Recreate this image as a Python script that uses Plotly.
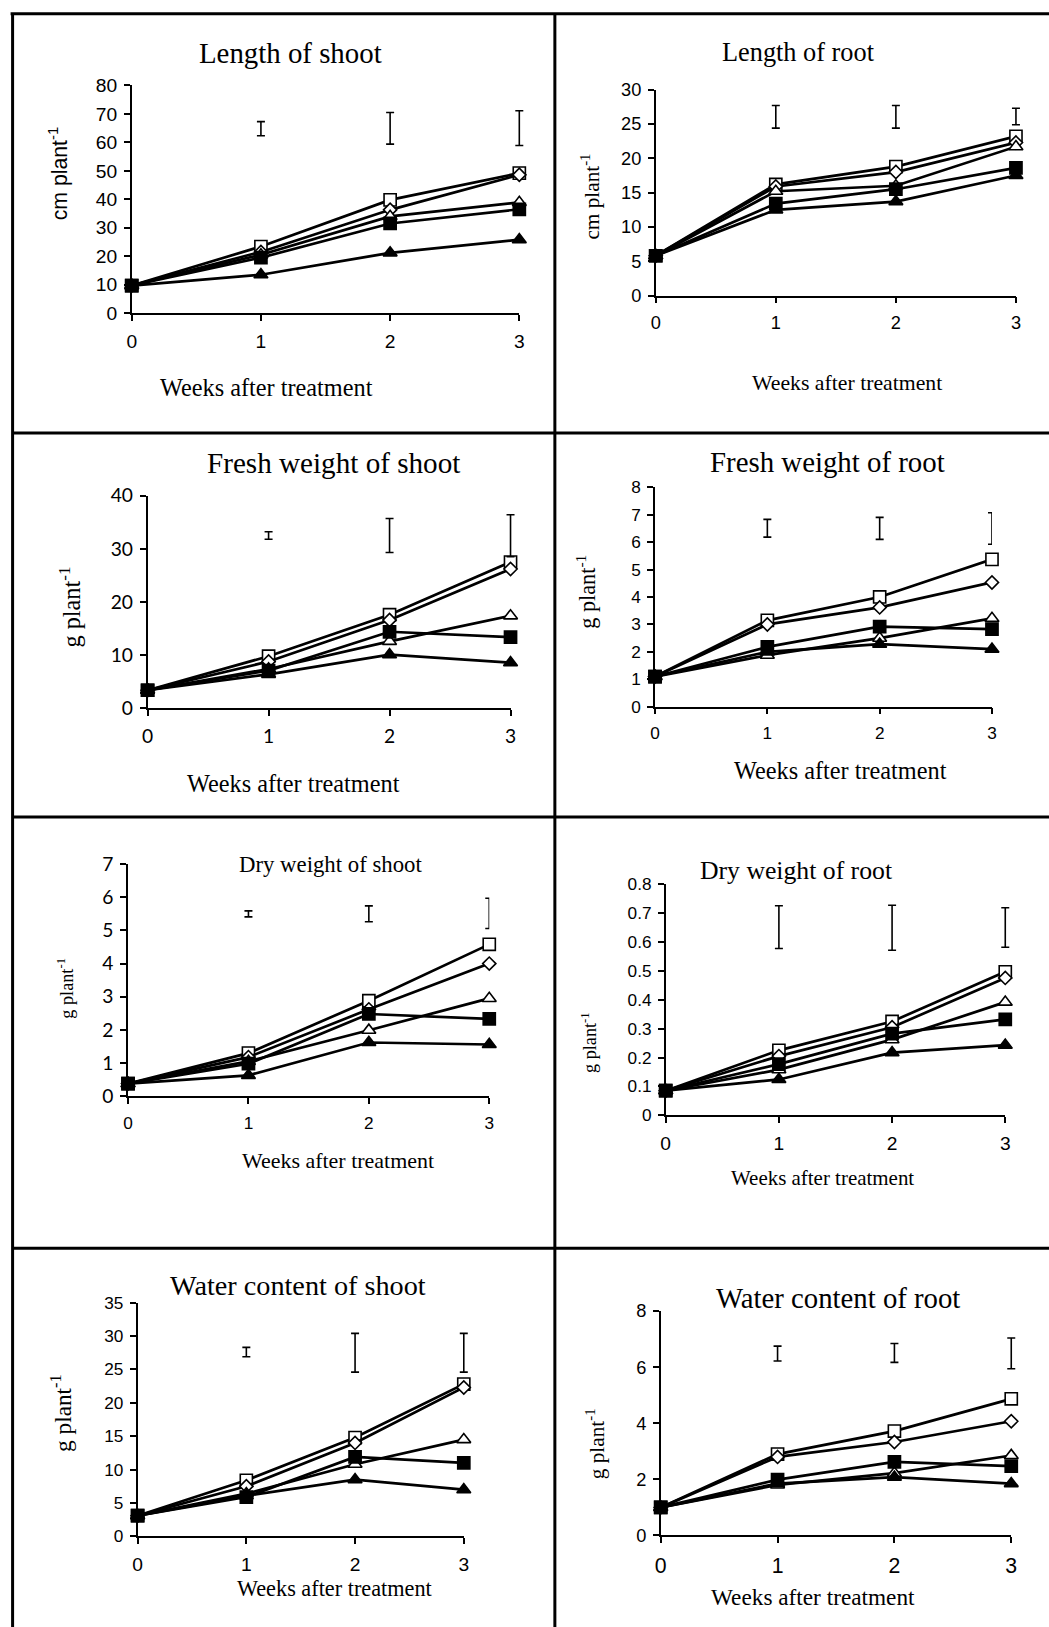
import plotly.graph_objects as go

# Target page size and figure size
W, H = 1049, 1627
FW, FH = 1060, 1640
# Placement of the figure on the captured page: page = offset + scale * figure
OX, OY = 4.4, 12.3
SX, SY = 0.990, 0.9855
FS = 1 / ((SX + SY) / 2)  # font/marker size compensation

weeks = [0, 1, 2, 3]
lsd_weeks = [1, 2, 3]

# Series order in every panel: open square, open diamond, open triangle,
# filled square, filled triangle
shoot_length = [
    [9.7, 23.4, 39.8, 49.2],
    [9.7, 21.5, 36.3, 48.6],
    [9.7, 20.5, 34.0, 38.9],
    [9.7, 19.5, 31.5, 36.5],
    [9.7, 13.5, 21.2, 25.8],
]
shoot_length_lsd_lo = [62.3, 59.4, 58.9]
shoot_length_lsd_hi = [67.3, 70.5, 71.1]

root_length = [
    [5.8, 16.2, 18.8, 23.2],
    [5.8, 15.9, 18.0, 22.3],
    [5.8, 15.2, 16.0, 21.7],
    [5.8, 13.4, 15.5, 18.6],
    [5.8, 12.5, 13.7, 17.5],
]
root_length_lsd_lo = [24.4, 24.4, 24.9]
root_length_lsd_hi = [27.7, 27.7, 27.3]

shoot_fresh = [
    [3.4, 9.8, 17.6, 27.5],
    [3.4, 8.8, 16.6, 26.2],
    [3.4, 7.4, 12.6, 17.4],
    [3.4, 7.1, 14.4, 13.4],
    [3.4, 6.4, 10.1, 8.6],
]
shoot_fresh_lsd_lo = [31.8, 29.3, 28.5]
shoot_fresh_lsd_hi = [33.2, 35.7, 36.4]

root_fresh = [
    [1.1, 3.15, 4.0, 5.37],
    [1.1, 3.0, 3.62, 4.53],
    [1.1, 1.88, 2.5, 3.22],
    [1.1, 2.18, 2.92, 2.83],
    [1.1, 2.0, 2.28, 2.1],
]
root_fresh_lsd_lo = [6.18, 6.1, 5.92]
root_fresh_lsd_hi = [6.83, 6.9, 7.07]

shoot_dry = [
    [0.38, 1.3, 2.88, 4.58],
    [0.38, 1.18, 2.62, 4.0],
    [0.38, 1.05, 1.99, 2.95],
    [0.38, 0.98, 2.48, 2.33],
    [0.38, 0.63, 1.62, 1.56],
]
shoot_dry_lsd_lo = [5.41, 5.26, 5.06]
shoot_dry_lsd_hi = [5.59, 5.74, 5.97]

root_dry = [
    [0.085, 0.225, 0.325, 0.497],
    [0.085, 0.205, 0.305, 0.476],
    [0.085, 0.158, 0.262, 0.392],
    [0.085, 0.177, 0.283, 0.332],
    [0.085, 0.124, 0.217, 0.243],
]
root_dry_lsd_lo = [0.578, 0.572, 0.582]
root_dry_lsd_hi = [0.726, 0.728, 0.719]

shoot_water = [
    [3.1, 8.4, 14.8, 22.8],
    [3.1, 7.5, 14.0, 22.3],
    [3.1, 6.4, 10.8, 14.5],
    [3.1, 5.9, 11.9, 11.0],
    [3.1, 6.1, 8.5, 7.0],
]
shoot_water_lsd_lo = [26.9, 24.6, 24.6]
shoot_water_lsd_hi = [28.3, 30.4, 30.4]

root_water = [
    [1.0, 2.9, 3.72, 4.87],
    [1.0, 2.8, 3.33, 4.07],
    [1.0, 1.8, 2.22, 2.85],
    [1.0, 1.99, 2.62, 2.47],
    [1.0, 1.85, 2.08, 1.85],
]
root_water_lsd_lo = [6.22, 6.17, 5.94]
root_water_lsd_hi = [6.75, 6.84, 7.04]

titles = ["Length of shoot", "Length of root", "Fresh weight of shoot",
          "Fresh weight of root", "Dry weight of shoot", "Dry weight of root",
          "Water content of shoot", "Water content of root"]
y_titles = ["cm plant<sup>-1</sup>", "cm plant<sup>-1</sup>",
            "g plant<sup>-1</sup>", "g plant<sup>-1</sup>",
            "g plant<sup>-1</sup>", "g plant<sup>-1</sup>",
            "g plant<sup>-1</sup>", "g plant<sup>-1</sup>"]
x_title = "Weeks after treatment"

panel_data = [
    (shoot_length, shoot_length_lsd_lo, shoot_length_lsd_hi),
    (root_length, root_length_lsd_lo, root_length_lsd_hi),
    (shoot_fresh, shoot_fresh_lsd_lo, shoot_fresh_lsd_hi),
    (root_fresh, root_fresh_lsd_lo, root_fresh_lsd_hi),
    (shoot_dry, shoot_dry_lsd_lo, shoot_dry_lsd_hi),
    (root_dry, root_dry_lsd_lo, root_dry_lsd_hi),
    (shoot_water, shoot_water_lsd_lo, shoot_water_lsd_hi),
    (root_water, root_water_lsd_lo, root_water_lsd_hi),
]

SANS = "Liberation Sans, Arial, sans-serif"
ROUND = "Lato, Open Sans, sans-serif"
SERIF = "Liberation Serif, Times New Roman, serif"

# Plot-area boxes in page pixels (left, right, top, bottom), axis ranges and
# text placement. clip_lsd: the last LSD bar is cut at the plot's right edge.
panel_layout = [
    dict(box=(130.3, 518.4, 85.7, 313.3), ymax=80, dtick=10, clip_lsd=False,
         yfont=(SANS, 19), xfont=(SANS, 19), title=(289, 53, 28.5),
         ytitle=(57, 174, 21, SANS), xtitle=(265.5, 388, 24)),
    dict(box=(655, 1015.7, 90, 295.7), ymax=30, dtick=5, clip_lsd=False,
         yfont=(SANS, 18), xfont=(SANS, 18), title=(798, 53, 26),
         ytitle=(590, 197, 21, SERIF), xtitle=(847, 383, 21.5)),
    dict(box=(146.2, 509.6, 495.7, 708.3), ymax=40, dtick=10, clip_lsd=False,
         yfont=(ROUND, 19), xfont=(ROUND, 19), title=(332.5, 463, 28.8),
         ytitle=(68, 607, 24, SERIF), xtitle=(292, 783, 24)),
    dict(box=(654.3, 991.7, 487.3, 706.7), ymax=8, dtick=1, clip_lsd=True,
         yfont=(SANS, 17), xfont=(SANS, 17), title=(827, 462, 28.5),
         ytitle=(585, 592, 22, SERIF), xtitle=(840, 770, 24)),
    dict(box=(126.6, 488.3, 864, 1096), ymax=7, dtick=1, clip_lsd=True,
         yfont=(ROUND, 19), xfont=(SANS, 17), title=(329, 864, 22.5),
         ytitle=(64, 988, 18, SERIF), xtitle=(336.5, 1160, 21.7)),
    dict(box=(665, 1005, 884.3, 1115), ymax=0.8, dtick=0.1, clip_lsd=False,
         yfont=(SANS, 17), xfont=(SANS, 19), title=(795, 870, 25.4),
         ytitle=(588, 1042, 18, SERIF), xtitle=(822, 1178, 20.7)),
    dict(box=(136.2, 462.8, 1302.3, 1536), ymax=35, dtick=5, clip_lsd=False,
         yfont=(SANS, 17), xfont=(SANS, 19), title=(297, 1285, 27.9),
         ytitle=(60, 1413, 23, SERIF), xtitle=(333.5, 1588, 22)),
    dict(box=(660, 1011, 1310.7, 1535), ymax=8, dtick=2, clip_lsd=False,
         yfont=(SANS, 18), xfont=(SANS, 21), title=(838, 1298, 28.4),
         ytitle=(595, 1443, 21, SERIF), xtitle=(812, 1597, 23)),
]

marker_styles = [
    dict(symbol="square", size=12, color="white"),
    dict(symbol="diamond", size=10, color="white"),
    dict(symbol="triangle-up", size=12, color="white"),
    dict(symbol="square", size=12, color="black"),
    dict(symbol="triangle-up", size=12, color="black"),
]

LSD_PAD = 14  # extra pixels to the right so the bar caps at week 3 stay whole


def px_x(v):
    return ((v - OX) / SX) / FW


def px_y(v):
    return 1 - ((v - OY) / SY) / FH


fig = go.Figure()
annotations = []

for i, ((series, lo, hi), lay) in enumerate(zip(panel_data, panel_layout)):
    n = "" if i == 0 else str(i + 1)
    xa, ya = "x" + n, "y" + n
    left, right, top, bottom = lay["box"]

    for vals, ms in zip(series, marker_styles):
        fig.add_trace(go.Scatter(
            x=weeks, y=vals, xaxis=xa, yaxis=ya, mode="lines+markers",
            line=dict(color="black", width=2.7),
            marker=dict(symbol=ms["symbol"], size=ms["size"] * FS, color=ms["color"],
                        line=dict(color="black", width=1.6)),
            cliponaxis=False, showlegend=False, hoverinfo="skip"))

    # LSD bars; drawn on a hidden x axis with the same scale but a slightly
    # wider domain, unless the bar is meant to be cut at the plot edge
    if lay["clip_lsd"]:
        lsd_xa = xa
    else:
        lsd_xa = "x" + str(i + 9)
        ext = right + LSD_PAD
        fig.update_layout(**{
            ("xaxis" + str(i + 9)): dict(
                domain=[px_x(left), px_x(ext)],
                range=[0, 3 * (ext - left) / (right - left)],
                anchor=ya, visible=False, showgrid=False, zeroline=False)
        })
    mid = [(a + b) / 2 for a, b in zip(lo, hi)]
    half = [(b - a) / 2 for a, b in zip(lo, hi)]
    fig.add_trace(go.Scatter(
        x=lsd_weeks, y=mid, xaxis=lsd_xa, yaxis=ya, mode="markers",
        marker=dict(size=1, color="rgba(0,0,0,0)"),
        error_y=dict(type="data", array=half, arrayminus=half, symmetric=False,
                     color="black", thickness=1.6, width=4),
        cliponaxis=False, showlegend=False, hoverinfo="skip"))

    axis_common = dict(showline=True, linecolor="black", linewidth=1.5,
                       ticks="outside", ticklen=6, tickwidth=1.5, tickcolor="black",
                       showgrid=False, zeroline=False)
    fig.update_layout(**{
        ("xaxis" + n): dict(domain=[px_x(left), px_x(right)], range=[0, 3],
                            tick0=0, dtick=1, anchor=ya,
                            tickfont=dict(family=lay["xfont"][0],
                                          size=lay["xfont"][1] * FS, color="black"),
                            ticklabelstandoff=4, **axis_common),
        ("yaxis" + n): dict(domain=[px_y(bottom), px_y(top)], range=[0, lay["ymax"]],
                            tick0=0, dtick=lay["dtick"], anchor=xa,
                            tickfont=dict(family=lay["yfont"][0],
                                          size=lay["yfont"][1] * FS, color="black"),
                            ticklabelstandoff=3, **axis_common),
    })

    tx, ty, ts = lay["title"]
    annotations.append(dict(text=titles[i], x=px_x(tx), y=px_y(ty), xref="paper",
                            yref="paper", showarrow=False, xanchor="center",
                            yanchor="middle",
                            font=dict(family=SERIF, size=ts * FS, color="black")))
    yx, yy, ys, yf = lay["ytitle"]
    annotations.append(dict(text=y_titles[i], x=px_x(yx), y=px_y(yy), xref="paper",
                            yref="paper", showarrow=False, textangle=-90,
                            xanchor="center", yanchor="middle",
                            font=dict(family=yf, size=ys * FS, color="black")))
    xx, xy, xs = lay["xtitle"]
    annotations.append(dict(text=x_title, x=px_x(xx), y=px_y(xy), xref="paper",
                            yref="paper", showarrow=False, xanchor="center",
                            yanchor="middle",
                            font=dict(family=SERIF, size=xs * FS, color="black")))

# Frame dividing the eight panels (page pixels)
frame = [
    (9, 14, W, 14),
    (11, 14, 11, H),
    (554, 14, 554, H),
    (11, 433, W, 433),
    (11, 817, W, 817),
    (11, 1248, W, 1248),
]
shapes = [dict(type="line", xref="paper", yref="paper",
               x0=px_x(a), y0=px_y(b), x1=px_x(c), y1=px_y(d),
               line=dict(color="black", width=3)) for a, b, c, d in frame]

fig.update_layout(width=FW, height=FH, margin=dict(l=0, r=0, t=0, b=0),
                  paper_bgcolor="white", plot_bgcolor="rgba(0,0,0,0)",
                  showlegend=False, annotations=annotations, shapes=shapes)

fig.write_html("out.html", config={"displayModeBar": False})
